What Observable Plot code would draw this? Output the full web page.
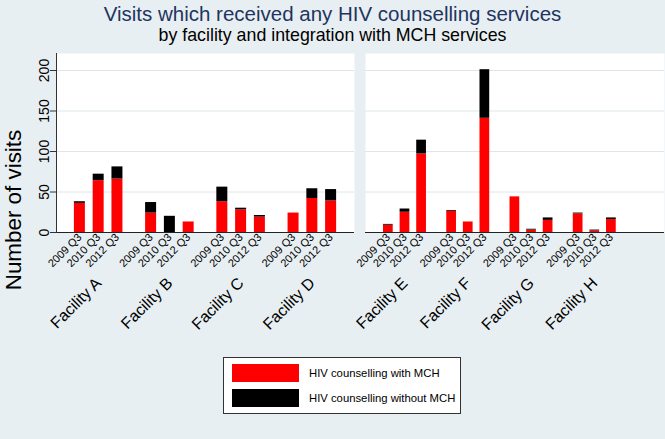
<!DOCTYPE html>
<html>
<head>
<meta charset="utf-8">
<script src="https://cdn.jsdelivr.net/npm/d3@7"></script>
<script src="https://cdn.jsdelivr.net/npm/@observablehq/plot@0.6"></script>
<style>
  body { margin: 0; }
  #chart { position: relative; width: 665px; height: 439px; background: #e8eff2; font-family: "Liberation Sans", Arial, sans-serif; overflow: hidden; }
  .title { position: absolute; left: 0; width: 665px; text-align: center; white-space: nowrap; }
  #t1 { top: 2px; font-size: 20.5px; line-height: 24px; color: #1f3560; }
  #t2 { top: 24px; font-size: 17.8px; line-height: 22px; color: #000; }
  .layer { position: absolute; top: 45px; height: 300px; }
  .layer svg { position: absolute; left: 0; top: 0; max-width: none !important; }
  #ylabel { position: absolute; left: -86px; top: 198px; width: 200px; height: 24px; line-height: 24px; text-align: center; font-size: 22.4px; transform: rotate(-90deg); white-space: nowrap; color: #000; }
  #legend { position: absolute; left: 223px; top: 357px; width: 236px; height: 55px; background: #fff; border: 1px solid #333; }
  .item { position: absolute; left: 8px; height: 18px; }
  .sw { position: absolute; left: 0; top: 0; width: 67px; height: 18px; }
  .lab { position: absolute; left: 77px; top: 0; line-height: 18px; font-size: 11.3px; white-space: nowrap; color: #000; }
</style>
</head>
<body>
<div id="chart">
  <div class="title" id="t1"></div>
  <div class="title" id="t2"></div>
  <div class="layer" id="p1" style="left:0px;width:354px"></div>
  <div class="layer" id="p2" style="left:365px;width:300px"></div>
  <div id="ylabel"></div>
  <div id="legend"></div>
</div>
<script>
const titleText = "Visits which received any HIV counselling services";
const subtitleText = "by facility and integration with MCH services";
const yLabel = "Number of visits";
const facilitiesLeft = ["Facility A", "Facility B", "Facility C", "Facility D"];
const facilitiesRight = ["Facility E", "Facility F", "Facility G", "Facility H"];
const periods = ["2009 Q3", "2010 Q3", "2012 Q3"];
const seriesNames = ["HIV counselling with MCH", "HIV counselling without MCH"];
const seriesColors = ["#ff0000", "#000000"];
// values in order: facility A..H, each 2009 Q3, 2010 Q3, 2012 Q3
const withMCH    = [36, 64, 66,  24, 0, 13,  38, 28, 19,  24, 42, 39,  9, 25, 97,  26, 13, 141,  44, 3, 15,  23, 2, 16];
const withoutMCH = [ 2,  8, 15,  13, 20, 0,  18,  2,  2,   0, 12, 14,  1,  4, 17,   1,  0,  60,   0, 1,  3,   1, 1,  2];
const yTicks = [0, 50, 100, 150, 200];
const yDomain = [0, 221];

document.getElementById("t1").textContent = titleText;
document.getElementById("t2").textContent = subtitleText;
document.getElementById("ylabel").textContent = yLabel;

const allFac = facilitiesLeft.concat(facilitiesRight);
const rows = [];
allFac.forEach((f, i) => periods.forEach((p, j) => {
  const k = i * periods.length + j;
  rows.push({facility: f, period: p, series: seriesNames[0], value: withMCH[k]});
  rows.push({facility: f, period: p, series: seriesNames[1], value: withoutMCH[k]});
}));

const H = 300, MT = 8, MB = 113;
const font = "'Liberation Sans', Arial, sans-serif";

function background(o) {
  const marks = [
    Plot.frame({fill: "white", stroke: null}),
    Plot.gridY(yTicks.slice(1), {stroke: "#dde6ea", strokeOpacity: 1, strokeWidth: 1}),
    Plot.ruleY([0], {stroke: "#222", strokeWidth: 1.2})
  ];
  if (o.yaxis) {
    marks.push(Plot.axisY(yTicks, {tickSize: 6, tickRotate: -90, tickPadding: 2, fontSize: 14, label: null, stroke: "#333"}));
    marks.push(Plot.frame({anchor: "left", stroke: "#333"}));
  }
  return Plot.plot({
    width: o.width, height: H, marginLeft: o.ml, marginRight: o.mr, marginTop: MT, marginBottom: MB,
    style: {background: "transparent", fontFamily: font, color: "#000", overflow: "visible"},
    y: {domain: yDomain, axis: o.yaxis ? undefined : null},
    marks
  });
}

function bars(facs, o) {
  const data = rows.filter(d => facs.includes(d.facility));
  return Plot.plot({
    width: o.width, height: H, marginLeft: o.ml, marginRight: o.mr, marginTop: MT, marginBottom: MB,
    style: {background: "transparent", fontFamily: font, color: "#000", overflow: "visible"},
    y: {domain: yDomain, axis: null},
    fx: {domain: facs, paddingInner: o.fpi, paddingOuter: o.fpo, align: o.align, round: false},
    x: {domain: periods, paddingInner: 0.415, paddingOuter: 0.2075, round: false},
    color: {domain: seriesNames, range: seriesColors},
    marks: [
      Plot.barY(data, {fx: "facility", x: "period", y: "value", fill: "series", order: seriesNames}),
      Plot.axisX({anchor: "bottom", tickSize: 0, tickRotate: -45, tickPadding: 3, fontSize: 11, label: null}),
      Plot.axisFx({anchor: "bottom", tickSize: 0, tickRotate: -45, tickPadding: 48, fontSize: 16, label: null})
    ]
  });
}

const cfg1 = {width: 354, ml: 56, mr: 0, fpi: 0.209, fpo: 0.1965, align: 0.5, yaxis: true};
const cfg2 = {width: 299, ml: 0, mr: 0, fpi: 0.212, fpo: 0.469, align: 0.245, yaxis: false};
const p1 = document.getElementById("p1");
p1.appendChild(background(cfg1));
p1.appendChild(bars(facilitiesLeft, cfg1));
const p2 = document.getElementById("p2");
p2.appendChild(background(cfg2));
p2.appendChild(bars(facilitiesRight, cfg2));

const legend = document.getElementById("legend");
seriesNames.forEach((name, i) => {
  const item = document.createElement("div");
  item.className = "item";
  item.style.top = (6 + i * 25) + "px";
  const sw = document.createElement("div");
  sw.className = "sw";
  sw.style.background = seriesColors[i];
  const lab = document.createElement("div");
  lab.className = "lab";
  lab.textContent = name;
  item.appendChild(sw);
  item.appendChild(lab);
  legend.appendChild(item);
});
</script>
</body>
</html>
